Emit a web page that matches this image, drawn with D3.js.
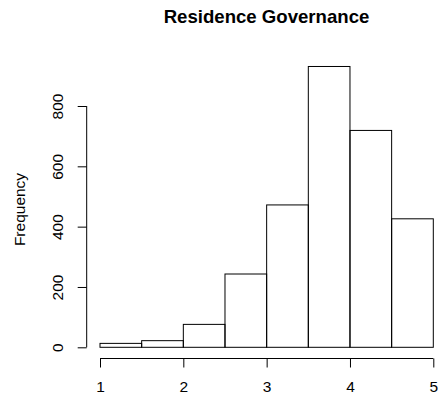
<!DOCTYPE html>
<html>
<head>
<meta charset="utf-8">
<script src="https://cdn.jsdelivr.net/npm/d3@7"></script>
<style>
html,body{margin:0;padding:0;background:#fff;}
svg{display:block;}
text{font-family:"Liberation Sans",Arial,Helvetica,sans-serif;fill:#000;}
</style>
</head>
<body>
<svg id="chart" width="440" height="405"></svg>
<script>
const breaks = [1, 1.5, 2, 2.5, 3, 3.5, 4, 4.5, 5];
const counts = [13, 22, 76, 243, 472, 931, 719, 426];
const xTicks = [1, 2, 3, 4, 5];
const yTicks = [0, 200, 400, 600, 800];
const title = "Residence Governance";
const yLabel = "Frequency";

const svg = d3.select("#chart");
const x = d3.scaleLinear().domain([1, 5]).range([100, 433.3]);
const y = d3.scaleLinear().domain([0, 800]).range([347.3, 106]);

const bins = counts.map((c, i) => ({x0: breaks[i], x1: breaks[i + 1], n: c}));

svg.append("g").selectAll("rect").data(bins).join("rect")
  .attr("x", d => x(d.x0))
  .attr("y", d => y(d.n))
  .attr("width", d => x(d.x1) - x(d.x0))
  .attr("height", d => y(0) - y(d.n))
  .attr("fill", "none")
  .attr("stroke", "#000")
  .attr("stroke-width", 1);

// x axis
const xAxisY = 358.5;
const gx = svg.append("g").attr("transform", `translate(0,${xAxisY})`)
  .call(d3.axisBottom(x).tickValues(xTicks).tickSize(9).tickPadding(0).tickSizeOuter(0).tickFormat(d3.format("d")));
gx.select(".domain").attr("d", `M${x(1)},0H${x(5)}`).attr("stroke", "#000");
gx.selectAll(".tick line").attr("stroke", "#000");
gx.selectAll(".tick text")
  .attr("y", 33).attr("dy", null)
  .style("font-size", "15.5px").style("font-family", '"Liberation Sans",Arial,sans-serif').attr("fill", "#000");

// y axis
const yAxisX = 86.7;
const gy = svg.append("g").attr("transform", `translate(${yAxisX},0)`)
  .call(d3.axisLeft(y).tickValues(yTicks).tickSize(9).tickSizeOuter(0).tickFormat(d3.format("d")));
gy.select(".domain").attr("d", `M0,${y(0)}V${y(800)}`).attr("stroke", "#000");
gy.selectAll(".tick line").attr("stroke", "#000");
gy.selectAll(".tick text")
  .attr("x", null).attr("dy", null)
  .attr("text-anchor", "middle")
  .attr("transform", "translate(-24,0) rotate(-90)")
  .style("font-size", "15.5px").style("font-family", '"Liberation Sans",Arial,sans-serif').attr("fill", "#000");

// y label
svg.append("text")
  .attr("transform", `translate(25,${209.5}) rotate(-90)`)
  .attr("text-anchor", "middle")
  .style("font-size", "15.5px")
  .text(yLabel);

// title
svg.append("text")
  .attr("x", 266.5).attr("y", 22.7)
  .attr("text-anchor", "middle")
  .style("font-size", "18.6px").style("font-weight", "bold")
  .text(title);
</script>
</body>
</html>
